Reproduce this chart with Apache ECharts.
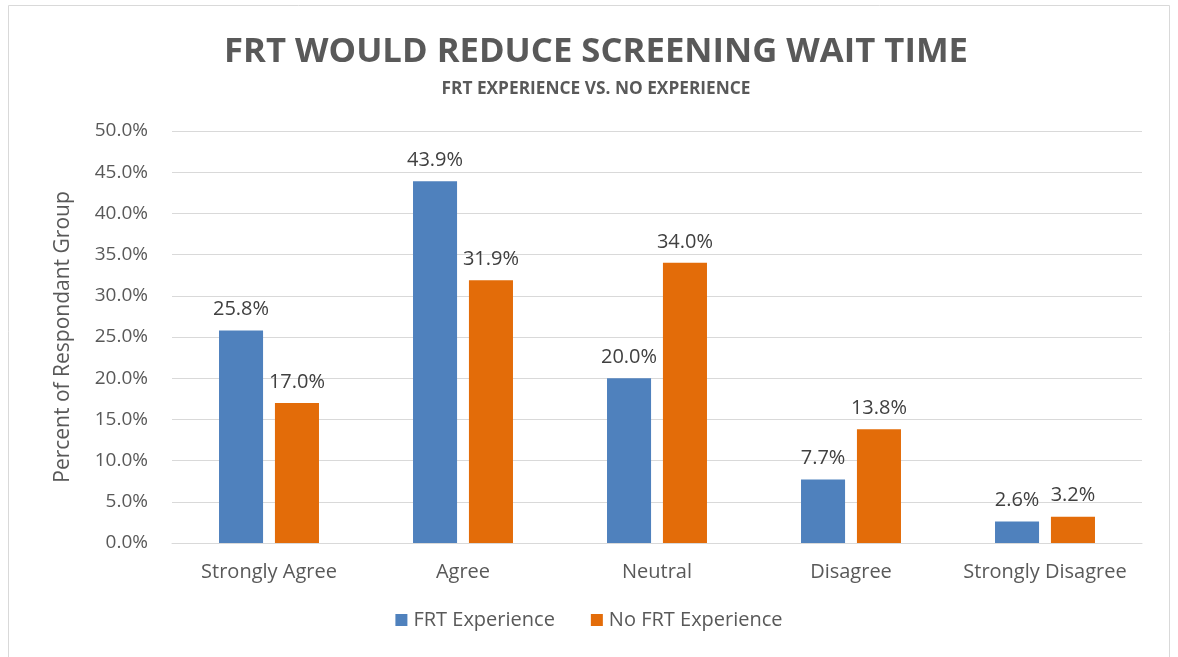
<!DOCTYPE html>
<html><head><meta charset="utf-8">
<script src="https://cdn.jsdelivr.net/npm/echarts@6/dist/echarts.min.js"></script>
<style>html,body{margin:0;padding:0;background:#fff}#c{width:1178px;height:657px}</style>
</head><body><div id="c"></div>
<script>
const categories = ['Strongly Agree', 'Agree', 'Neutral', 'Disagree', 'Strongly Disagree'];
const frtExperience = [25.8, 43.9, 20.0, 7.7, 2.6];
const noFrtExperience = [17.0, 31.9, 34.0, 13.8, 3.2];
const seriesNames = ['FRT Experience', 'No FRT Experience'];
const titleText = 'FRT WOULD REDUCE SCREENING WAIT TIME';
const subtitleText = 'FRT EXPERIENCE VS. NO EXPERIENCE';

function fitScale(text, font, target) {
  const ctx = document.createElement('canvas').getContext('2d');
  ctx.font = font;
  return target / ctx.measureText(text).width;
}
const titleFont = 'bold 34px "Open Sans"';
const subFont = 'bold 18px "Open Sans"';

const chart = echarts.init(document.getElementById('c'));
const labelStyle = {show: true, position: 'top', distance: 11, formatter: p => p.value.toFixed(1) + '%', color: '#404040', fontSize: 20, fontFamily: 'Open Sans'};
chart.setOption({
  animation: false,
  graphic: [
    {type: 'rect', shape: {x: 8.5, y: 5.5, width: 1161, height: 660}, style: {fill: 'none', stroke: '#d9d9d9', lineWidth: 1}},
    {type: 'text', x: 596, y: 52, scaleX: fitScale(titleText, titleFont, 744), style: {text: titleText, font: titleFont, fill: '#595959', textAlign: 'center', textVerticalAlign: 'middle'}},
    {type: 'text', x: 596, y: 88.5, scaleX: fitScale(subtitleText, subFont, 309), style: {text: subtitleText, font: subFont, fill: '#595959', textAlign: 'center', textVerticalAlign: 'middle'}}
  ],
  legend: {bottom: 22, left: 'center', itemWidth: 12, itemHeight: 12, itemGap: 36, icon: 'rect', textStyle: {fontFamily: 'Open Sans', fontSize: 20, color: '#595959', padding: [0, 0, 0, 1]}, data: seriesNames},
  grid: {left: 172, right: 36, top: 131, bottom: 114},
  xAxis: {type: 'category', data: categories, axisTick: {show: false}, axisLine: {lineStyle: {color: '#d9d9d9', width: 1}},
    axisLabel: {interval: 0, fontFamily: 'Open Sans', fontSize: 20, color: '#595959', margin: 19}},
  yAxis: {type: 'value', min: 0, max: 50, interval: 5, name: 'Percent of Respondant Group', nameLocation: 'middle', nameGap: 98,
    nameTextStyle: {fontFamily: 'Open Sans', fontSize: 21, color: '#595959'},
    axisLabel: {formatter: v => v.toFixed(1) + '%', fontFamily: 'Open Sans', fontSize: 19, color: '#595959', margin: 24},
    splitLine: {lineStyle: {color: '#d9d9d9', width: 1}}},
  series: [
    {name: seriesNames[0], type: 'bar', data: frtExperience, barWidth: '22.7%', barGap: '27%', itemStyle: {color: '#4F81BD'}, label: labelStyle},
    {name: seriesNames[1], type: 'bar', data: noFrtExperience, barWidth: '22.7%', barGap: '27%', itemStyle: {color: '#E36C09'}, label: labelStyle}
  ]
});
</script></body></html>
